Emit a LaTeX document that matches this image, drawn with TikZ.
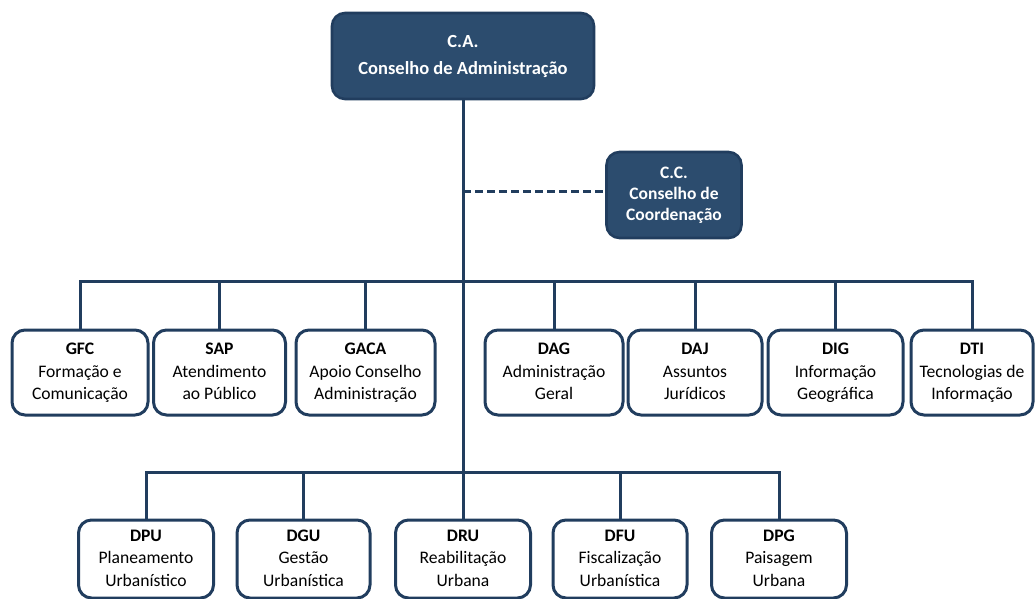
\documentclass[tikz,border=0pt]{standalone}
\usepackage{fontspec}
\setmainfont{Carlito}
\definecolor{navy}{HTML}{213D5E}
\definecolor{navyfill}{HTML}{2C4C6E}
\newcommand{\orgtxt}[3]{\strut\textbf{#1}\\\strut #2\\\strut #3}
\tikzset{
  unit/.style={draw=navy, line width=3pt, rounded corners=13pt, fill=white,
    align=center, inner sep=0pt, text=black, font=\fontsize{17.6}{22.5}\selectfont},
  head/.style={draw=navy, line width=2.6pt, rounded corners=13pt, fill=navyfill,
    align=center, inner sep=0pt, text=white, font=\bfseries\fontsize{18.5}{27}\selectfont},
  link/.style={draw=navy, line width=3pt},
  dlink/.style={draw=navy, line width=3pt, dash pattern=on 8pt off 4pt}
}
\begin{document}
\begin{tikzpicture}[x=1pt,y=-1pt]
\useasboundingbox (0,0) rectangle (1035,599);
% top
\node[head, minimum width=262pt, minimum height=86pt] (ca) at (463,56) {\strut C.A.\\\strut Conselho de Administração};
\node[head, minimum width=135pt, minimum height=86pt, font=\bfseries\fontsize{17.5}{21}\selectfont] (cc) at (674,195) {\strut C.C.\\\strut Conselho de\\\strut Coordenação};
% middle row
\node[unit, minimum width=136pt, minimum height=85pt] (gfc) at (80,372.5) {\orgtxt{GFC}{Formação e}{Comunicação}};
\node[unit, minimum width=132pt, minimum height=85pt] (sap) at (219.5,372.5) {\orgtxt{SAP}{Atendimento}{ao Público}};
\node[unit, minimum width=139pt, minimum height=85pt] (gaca) at (365.5,372.5) {\orgtxt{GACA}{Apoio Conselho}{Administração}};
\node[unit, minimum width=138pt, minimum height=85pt] (dag) at (554,372.5) {\orgtxt{DAG}{Administração}{Geral}};
\node[unit, minimum width=134pt, minimum height=85pt] (daj) at (695,372.5) {\orgtxt{DAJ}{Assuntos}{Jurídicos}};
\node[unit, minimum width=135pt, minimum height=85pt] (dig) at (835.5,372.5) {\orgtxt{DIG}{Informação}{Geográfica}};
\node[unit, minimum width=122pt, minimum height=85pt] (dti) at (972,372.5) {\orgtxt{DTI}{Tecnologias de}{Informação}};
% bottom row
\node[unit, minimum width=135pt, minimum height=78pt] (dpu) at (146,559) {\orgtxt{DPU}{Planeamento}{Urbanístico}};
\node[unit, minimum width=133pt, minimum height=78pt] (dgu) at (303.5,559) {\orgtxt{DGU}{Gestão}{Urbanística}};
\node[unit, minimum width=135pt, minimum height=78pt] (dru) at (463,559) {\orgtxt{DRU}{Reabilitação}{Urbana}};
\node[unit, minimum width=134pt, minimum height=78pt] (dfu) at (620,559) {\orgtxt{DFU}{Fiscalização}{Urbanística}};
\node[unit, minimum width=135pt, minimum height=78pt] (dpg) at (779,559) {\orgtxt{DPG}{Paisagem}{Urbana}};
% bus coordinates
\coordinate (tb) at (463,281);
\coordinate (bb) at (463,472);
\coordinate (cd) at (463,191);
% connectors
\draw[link] (ca.south) -- (dru.north);
\draw[dlink] (cd) -- (cc.west |- cd);
\draw[link] (gfc.north) -- (gfc.north |- tb) -- (dti.north |- tb) -- (dti.north);
\foreach \n in {sap,gaca,dag,daj,dig} \draw[link] (\n.north) -- (\n.north |- tb);
\draw[link] (dpu.north) -- (dpu.north |- bb) -- (dpg.north |- bb) -- (dpg.north);
\foreach \n in {dgu,dfu} \draw[link] (\n.north) -- (\n.north |- bb);
\end{tikzpicture}
\end{document}
